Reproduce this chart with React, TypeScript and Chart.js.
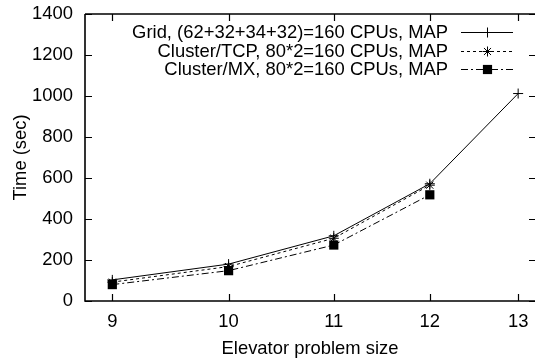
import React, { useEffect, useRef } from "react";
import { Chart, registerables } from "chart.js";

Chart.register(...registerables);

const problemSizes = [9, 10, 11, 12, 13];
const gridTimes = [103, 180, 318, 572, 1012];
const tcpTimes = [92, 168, 306, 565];
const mxTimes = [80, 148, 273, 518];
const seriesLabels = [
  "Grid, (62+32+34+32)=160 CPUs, MAP",
  "Cluster/TCP, 80*2=160 CPUs, MAP",
  "Cluster/MX, 80*2=160 CPUs, MAP",
];
const yTicks = [0, 200, 400, 600, 800, 1000, 1200, 1400];
const xTitle = "Elevator problem size";
const yTitle = "Time (sec)";

const FONT = "Liberation Sans, Arial, Helvetica, sans-serif";
const FS = 18.4;

const toPts = (vals: number[]) => vals.map((v, i) => ({ x: problemSizes[i], y: v }));

function drawMarker(ctx: CanvasRenderingContext2D, style: string, x: number, y: number, r: number) {
  ctx.beginPath();
  if (style === "cross") {
    ctx.moveTo(x - r, y);
    ctx.lineTo(x + r, y);
    ctx.moveTo(x, y - r);
    ctx.lineTo(x, y + r);
    ctx.stroke();
  } else if (style === "star") {
    ctx.moveTo(x - r, y);
    ctx.lineTo(x + r, y);
    ctx.moveTo(x, y - r);
    ctx.lineTo(x, y + r);
    const d = r * Math.SQRT1_2;
    ctx.moveTo(x - d, y - d);
    ctx.lineTo(x + d, y + d);
    ctx.moveTo(x - d, y + d);
    ctx.lineTo(x + d, y - d);
    ctx.stroke();
  } else {
    const s = r * Math.SQRT1_2;
    ctx.rect(x - s, y - s, 2 * s, 2 * s);
    ctx.fill();
  }
}

const framePlugin = {
  id: "frame",
  afterDatasetsDraw(chart: any) {
    const { ctx, chartArea: a, scales } = chart;
    const xs = scales.x;
    const ys = scales.y;
    ctx.save();
    ctx.strokeStyle = "#000";
    ctx.lineWidth = 1.6;
    ctx.beginPath();
    ctx.moveTo(a.left, a.top);
    ctx.lineTo(a.right + 2, a.top);
    ctx.moveTo(a.left, a.top);
    ctx.lineTo(a.left, a.bottom);
    ctx.lineTo(a.right + 2, a.bottom);
    ctx.stroke();
    ctx.lineWidth = 1.2;
    const tl = 7;
    ctx.beginPath();
    problemSizes.forEach((v) => {
      const px = Math.round(xs.getPixelForValue(v)) + 0.5;
      ctx.moveTo(px, a.bottom);
      ctx.lineTo(px, a.bottom - tl);
      ctx.moveTo(px, a.top);
      ctx.lineTo(px, a.top + tl);
    });
    yTicks.forEach((v) => {
      const py = Math.round(ys.getPixelForValue(v)) + 0.5;
      ctx.moveTo(a.left, py);
      ctx.lineTo(a.left + tl, py);
      ctx.moveTo(a.right + 1, py);
      ctx.lineTo(a.right + 1 - tl, py);
    });
    ctx.stroke();

    // legend
    ctx.font = `${FS}px ${FONT}`;
    ctx.fillStyle = "#000";
    ctx.textAlign = "right";
    ctx.textBaseline = "middle";
    const textRight = 448;
    const lx0 = 461;
    const lx1 = 513;
    const rowY = [a.top + 18, a.top + 37, a.top + 55];
    chart.data.datasets.forEach((ds: any, i: number) => {
      const y = rowY[i];
      ctx.fillText(ds.label, textRight, y + 1);
      ctx.save();
      ctx.strokeStyle = "#000";
      ctx.lineWidth = 1;
      ctx.setLineDash(ds.borderDash || []);
      ctx.beginPath();
      ctx.moveTo(lx0, y + 0.5);
      ctx.lineTo(lx1, y + 0.5);
      ctx.stroke();
      ctx.restore();
      ctx.save();
      ctx.strokeStyle = "#000";
      ctx.fillStyle = "#000";
      ctx.lineWidth = 1;
      drawMarker(ctx, ds.pointStyle, 487.5, y + 0.5, ds.pointRadius);
      ctx.restore();
    });
    ctx.restore();
  },
};

export default function App() {
  const ref = useRef<HTMLCanvasElement | null>(null);
  useEffect(() => {
    document.body.style.margin = "0";
    const canvas = ref.current!;
    const chart = new Chart(canvas, {
      type: "line",
      data: {
        datasets: [
          {
            label: seriesLabels[0],
            data: toPts(gridTimes),
            borderColor: "#000",
            backgroundColor: "#000",
            borderWidth: 1,
            pointStyle: "cross",
            pointRadius: 5,
            pointBorderWidth: 1,
          },
          {
            label: seriesLabels[1],
            data: toPts(tcpTimes),
            borderColor: "#000",
            backgroundColor: "#000",
            borderWidth: 1,
            borderDash: [3, 3],
            pointStyle: "star",
            pointRadius: 5,
            pointBorderWidth: 1,
          },
          {
            label: seriesLabels[2],
            data: toPts(mxTimes),
            borderColor: "#000",
            backgroundColor: "#000",
            borderWidth: 1,
            borderDash: [7, 3, 2, 3],
            pointStyle: "rect",
            pointRadius: 6.5,
            pointBorderWidth: 0,
          },
        ],
      },
      options: {
        responsive: false,
        animation: false,
        layout: { autoPadding: false, padding: { top: 14, right: 0, left: 0, bottom: 0 } },
        plugins: {
          legend: { display: false },
          tooltip: { enabled: false },
        },
        scales: {
          x: {
            type: "logarithmic",
            min: 8.78,
            max: 13.2,
            afterBuildTicks: (scale: any) => {
              scale.ticks = problemSizes.map((v) => ({ value: v }));
            },
            afterFit: (scale: any) => {
              scale.height = 59;
              scale.paddingLeft = 0;
              scale.paddingRight = 0;
            },
            grid: { display: false, drawTicks: false },
            border: { display: false },
            ticks: {
              color: "#000",
              font: { family: FONT, size: FS },
              padding: 10,
              maxRotation: 0,
              autoSkip: false,
              callback: (v: any) => String(v),
            },
            title: {
              display: true,
              text: xTitle,
              color: "#000",
              font: { family: FONT, size: FS },
              padding: { top: 2, bottom: 0 },
            },
          },
          y: {
            min: 0,
            max: 1400,
            afterBuildTicks: (scale: any) => {
              scale.ticks = yTicks.map((v) => ({ value: v }));
            },
            afterFit: (scale: any) => {
              scale.width = 85;
              scale.paddingTop = 0;
              scale.paddingBottom = 0;
            },
            grid: { display: false, drawTicks: false },
            border: { display: false },
            ticks: {
              color: "#000",
              font: { family: FONT, size: FS },
              padding: 12,
              callback: (v: any) => String(v),
            },
            title: {
              display: true,
              text: yTitle,
              color: "#000",
              font: { family: FONT, size: FS },
              padding: { top: 10, bottom: 0 },
            },
          },
        },
      },
      plugins: [framePlugin],
    } as any);
    return () => chart.destroy();
  }, []);
  return <canvas ref={ref} width={535} height={360} style={{ display: "block" }} />;
}
